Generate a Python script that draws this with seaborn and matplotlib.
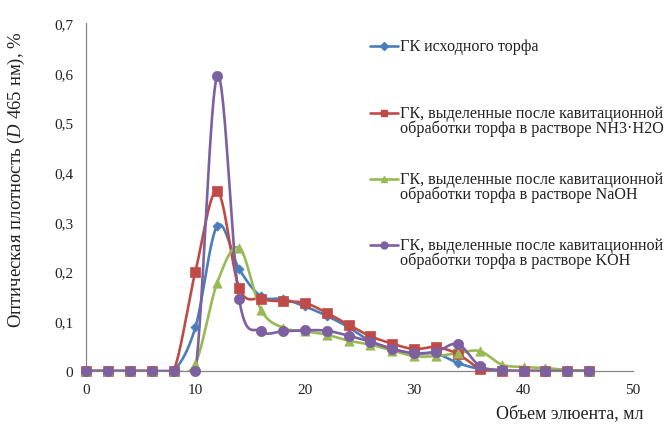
import numpy as np
import pandas as pd
import seaborn as sns
import matplotlib.pyplot as plt
from matplotlib.lines import Line2D

# elution volume, ml
volume = [0, 2, 4, 6, 8, 10, 12, 14, 16, 18, 20, 22, 24,
          26, 28, 30, 32, 34, 36, 38, 40, 42, 44, 46]

# optical density series
gk_initial = [0, 0, 0, 0, 0, 0.088, 0.292, 0.205, 0.150, 0.145, 0.130, 0.111,
              0.088, 0.060, 0.045, 0.035, 0.035, 0.016, 0.004, 0, 0, 0, 0, 0]
gk_nh3 = [0, 0, 0, 0, 0, 0.200, 0.362, 0.167, 0.145, 0.140, 0.137, 0.117,
          0.093, 0.070, 0.055, 0.044, 0.048, 0.034, 0.005, 0, 0, 0, 0, 0]
gk_naoh = [0, 0, 0, 0, 0, 0.015, 0.178, 0.248, 0.123, 0.087, 0.080, 0.073,
           0.061, 0.053, 0.041, 0.030, 0.030, 0.036, 0.040, 0.013, 0.008,
           0.006, 0.002, 0]
gk_koh = [0, 0, 0, 0, 0, 0, 0.593, 0.144, 0.080, 0.080, 0.082, 0.081,
          0.071, 0.059, 0.044, 0.036, 0.039, 0.054, 0.010, 0.002, 0, 0, 0, 0]

labels = [
    "ГК исходного торфа",
    "ГК, выделенные после кавитационной\nобработки торфа в растворе NH3·H2O",
    "ГК, выделенные после кавитационной\nобработки торфа в растворе NaOH",
    "ГК, выделенные после кавитационной\nобработки торфа в растворе KOH",
]
series = [gk_initial, gk_nh3, gk_naoh, gk_koh]
colors = ["#4A7EBB", "#BE4B48", "#98B954", "#7D60A0"]
markers = ["D", "s", "^", "o"]
marker_sizes = [22, 45, 45, 55]


def smooth(x, y, n=30):
    """Catmull-Rom curve through the points (like Excel smoothed lines)"""
    x = np.asarray(x, float)
    y = np.asarray(y, float)
    px = np.concatenate([[x[0]], x, [x[-1]]])
    py = np.concatenate([[y[0]], y, [y[-1]]])
    xs, ys = [], []
    t = np.linspace(0, 1, n, endpoint=False)
    h00 = 2 * t**3 - 3 * t**2 + 1
    h10 = t**3 - 2 * t**2 + t
    h01 = -2 * t**3 + 3 * t**2
    h11 = t**3 - t**2
    for i in range(1, len(px) - 2):
        mx0 = (px[i + 1] - px[i - 1]) / 2
        mx1 = (px[i + 2] - px[i]) / 2
        my0 = (py[i + 1] - py[i - 1]) / 2
        my1 = (py[i + 2] - py[i]) / 2
        xs.append(h00 * px[i] + h10 * mx0 + h01 * px[i + 1] + h11 * mx1)
        ys.append(h00 * py[i] + h10 * my0 + h01 * py[i + 1] + h11 * my1)
    xs.append([x[-1]])
    ys.append([y[-1]])
    return np.concatenate(xs), np.concatenate(ys)


sns.set_style("white")
plt.rcParams["font.family"] = ["Liberation Serif", "DejaVu Serif"]
plt.rcParams["mathtext.fontset"] = "custom"
plt.rcParams["mathtext.rm"] = "Liberation Serif"
plt.rcParams["mathtext.it"] = "Liberation Serif:italic"

fig = plt.figure(figsize=(6.65, 4.31), dpi=100)
ax = fig.add_axes([86 / 665, 59 / 431, 547 / 665, 348 / 431])

for vals, col, mk, ms in zip(series, colors, markers, marker_sizes):
    sx, sy = smooth(volume, vals)
    curve = pd.DataFrame({"x": sx, "y": sy})
    sns.lineplot(data=curve, x="x", y="y", color=col, lw=1.9, ax=ax,
                 sort=False, estimator=None)
    pts = pd.DataFrame({"x": volume, "y": vals})
    sns.scatterplot(data=pts, x="x", y="y", color=col, marker=mk, s=ms,
                    edgecolor=col, linewidth=0.5, ax=ax, clip_on=False,
                    zorder=3)

ax.set_xlim(0, 50)
ax.set_ylim(0, 0.7)
ax.set_xticks(range(0, 51, 10))
ax.set_yticks(np.arange(0, 0.71, 0.1))
ax.set_yticklabels(["0"] + [f"0,{i}" for i in range(1, 8)])
ax.set_xlabel("")
ax.set_ylabel("")
for side in ["top", "right"]:
    ax.spines[side].set_visible(False)
for side in ["left", "bottom"]:
    ax.spines[side].set_color("#868686")
    ax.spines[side].set_linewidth(0.9)
ax.tick_params(axis="both", direction="out", length=4, width=0.9,
               color="#868686", labelsize=11, labelcolor="#222222", pad=5)

fig.text(643 / 665, 1 - 414 / 431, "Объем элюента, мл", ha="right",
         va="center", fontsize=13, color="#222222")
fig.text(16 / 665, 1 - 180 / 431, "Оптическая плотность ($D$ 465 нм), %",
         rotation=90, ha="center", va="center", fontsize=13.5,
         color="#222222")

# legend drawn by hand so the marker sits on the first text line
leg_y = [47, 114, 180, 246]
for y0, lab, col, mk in zip(leg_y, labels, colors, markers):
    yf = 1 - y0 / 431
    fig.add_artist(Line2D([370 / 665, 398 / 665], [yf, yf], color=col,
                          lw=1.9))
    fig.add_artist(Line2D([384 / 665], [yf], color=col, marker=mk,
                          markersize=5 if mk != "D" else 4, lw=0))
    for k, line in enumerate(lab.split("\n")):
        fig.text(400 / 665, 1 - (y0 + 15 * k) / 431, line, ha="left",
                 va="center", fontsize=11.6, color="#222222")

fig.savefig("out.png", dpi=100)
